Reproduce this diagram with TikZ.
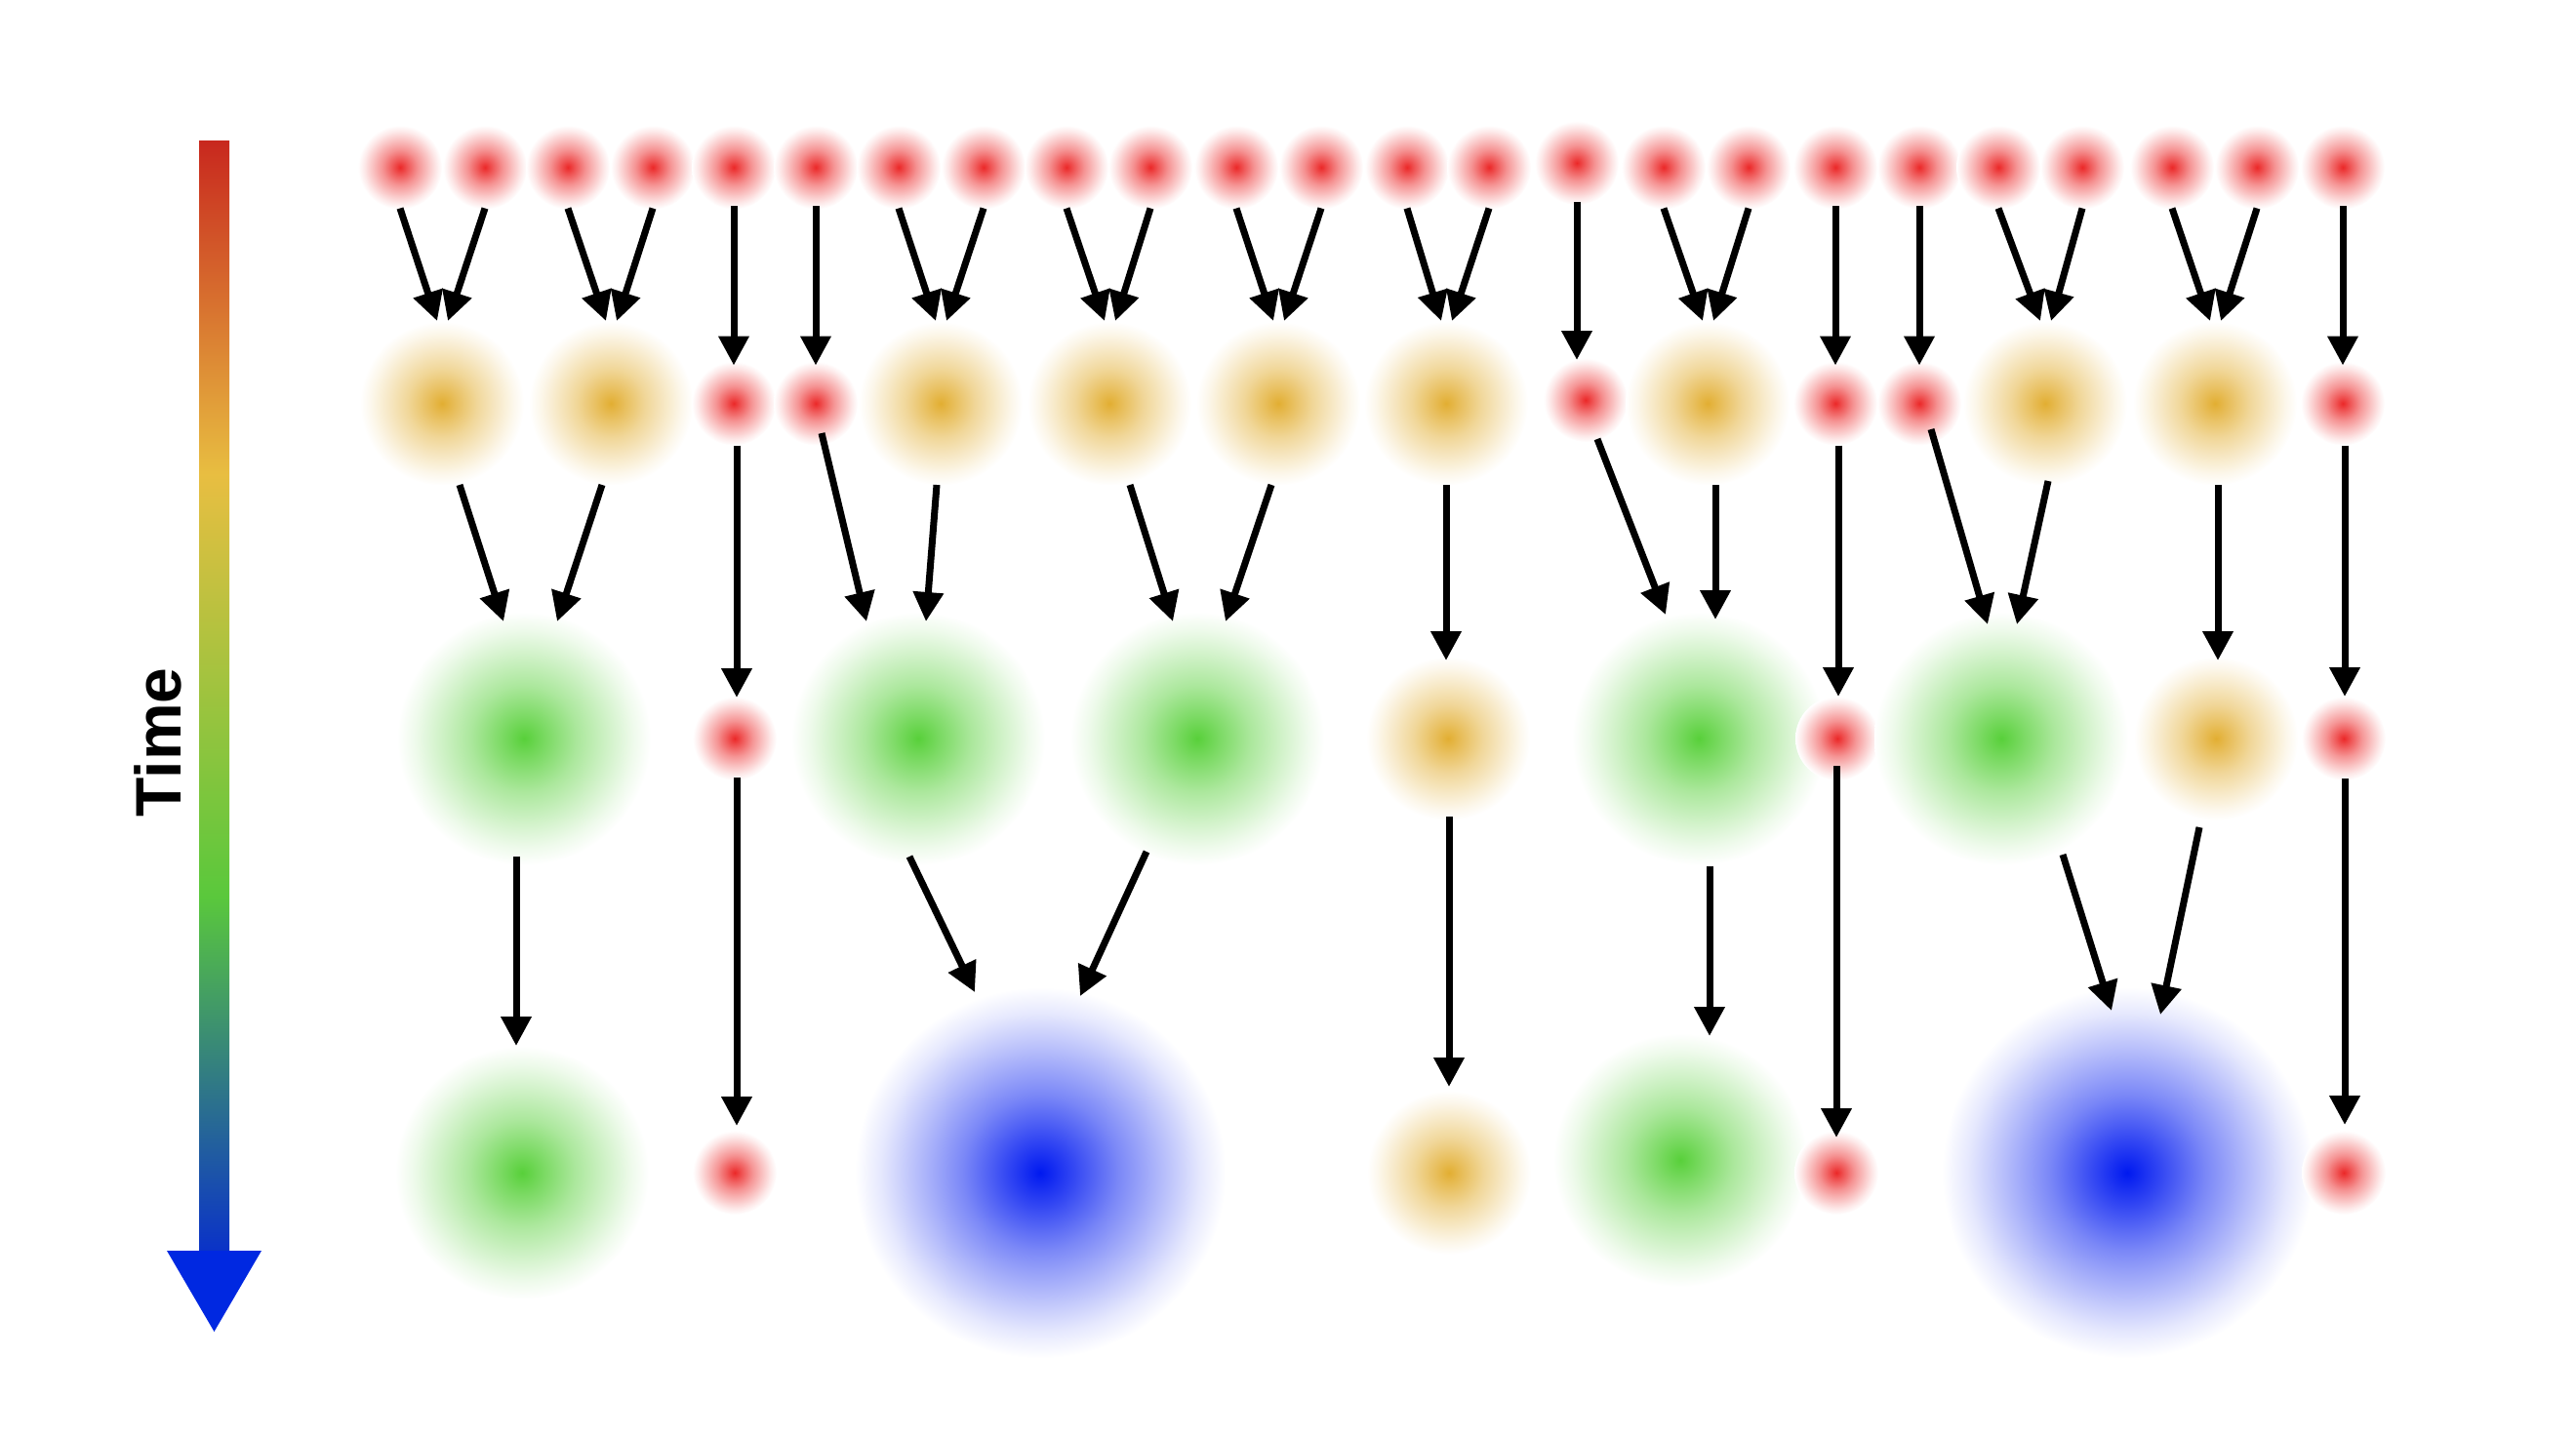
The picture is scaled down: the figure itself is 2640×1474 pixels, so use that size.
\documentclass[tikz,border=0pt]{standalone}
\usepackage{fontspec}
\setmainfont{Liberation Sans}
\usetikzlibrary{arrows.meta,calc}
\definecolor{cred}{RGB}{235,40,40}
\definecolor{corange}{RGB}{226,174,50}
\definecolor{cgreen}{RGB}{88,208,58}
\definecolor{cblue}{RGB}{0,25,240}
\definecolor{tred}{RGB}{200,40,30}
\definecolor{tyellow}{RGB}{232,190,65}
\definecolor{tgreen}{RGB}{90,200,60}
\definecolor{tblue}{RGB}{10,50,200}
\definecolor{thead}{RGB}{0,40,225}
\pgfdeclareradialshading{shred}{\pgfpointorigin}{color(0bp)=(cred); color(4.5bp)=(cred!78!white); color(10.5bp)=(cred!50!white); color(16.5bp)=(cred!28!white); color(21.5bp)=(cred!10!white); color(25bp)=(white); color(50bp)=(white)}
\pgfdeclareradialshading{shorange}{\pgfpointorigin}{color(0bp)=(corange); color(4.5bp)=(corange!78!white); color(10.5bp)=(corange!50!white); color(16.5bp)=(corange!28!white); color(21.5bp)=(corange!10!white); color(25bp)=(white); color(50bp)=(white)}
\pgfdeclareradialshading{shgreen}{\pgfpointorigin}{color(0bp)=(cgreen); color(4.5bp)=(cgreen!78!white); color(10.5bp)=(cgreen!50!white); color(16.5bp)=(cgreen!28!white); color(21.5bp)=(cgreen!10!white); color(25bp)=(white); color(50bp)=(white)}
\pgfdeclareradialshading{shblue}{\pgfpointorigin}{color(0bp)=(cblue); color(4.5bp)=(cblue!80!white); color(10.5bp)=(cblue!52!white); color(16.5bp)=(cblue!29!white); color(21.5bp)=(cblue!10!white); color(25bp)=(white); color(50bp)=(white)}
\pgfdeclareverticalshading{timebar}{100bp}{color(0bp)=(tblue); color(25bp)=(tblue); color(41bp)=(tgreen); color(60bp)=(tyellow); color(75bp)=(tred); color(100bp)=(tred)}
\tikzset{
  blob/.style={circle, inner sep=0pt, outer sep=0pt, shade},
  rblob/.style={blob, shading=shred, minimum size=86pt},
  oblob/.style={blob, shading=shorange, minimum size=168pt},
  gblob/.style={blob, shading=shgreen, minimum size=260pt},
  bblob/.style={blob, shading=shblue, minimum size=380pt},
  conn/.style={line width=7pt, -{Triangle[length=30pt,width=30pt]}}
}
\begin{document}
\begin{tikzpicture}[x=1pt,y=-1pt]
\useasboundingbox (0,0) rectangle (2640,1474);
% time axis
\shade[shading=timebar] (204,145) rectangle (235,1283);
\fill[thead] (171,1282) -- (268,1282) -- (219.5,1365) -- cycle;
\node[rotate=90, anchor=base, font=\bfseries\fontsize{66}{70}\selectfont] (time) at (185,761) {Time};
% row 1
\foreach \n/\x/\y in {1/410/171.5,2/497/171.5,3/582/171.5,4/669/171.5,5/752/171.5,6/836/171.5,7/921/171.5,8/1008/171.5,9/1093/171.5,10/1179/171.5,11/1267/171.5,12/1354/171.5,13/1442/171.5,14/1526/171.5,15/1616/167,16/1705/171.5,17/1792/171.5,18/1881/171.5,19/1967/171.5,20/2048/171.5,21/2134/171.5,22/2226/171.5,23/2313/171.5,24/2401/171.5}
  \node[rblob] (t\n) at (\x,\y) {};
% row 2
\node[oblob] (o1) at (453,413.5) {};
\node[oblob] (o2) at (626,413.5) {};
\node[rblob] (r5b) at (752,413.5) {};
\node[rblob] (r6b) at (836,413.5) {};
\node[oblob] (o3) at (964,413.5) {};
\node[oblob] (o4) at (1137,413.5) {};
\node[oblob] (o5) at (1310,413.5) {};
\node[oblob] (o6) at (1482,413.5) {};
\node[rblob] (r15b) at (1625,410) {};
\node[oblob] (o7) at (1750,413.5) {};
\node[rblob] (r18b) at (1881,413.5) {};
\node[rblob] (r19b) at (1967,413.5) {};
\node[oblob] (o8) at (2096,413.5) {};
\node[oblob] (o9) at (2270,413.5) {};
\node[rblob] (r24b) at (2401,413.5) {};
% row 3
\node[gblob] (g1) at (537,757) {};
\node[rblob] (r5c) at (753,757) {};
\node[gblob] (g2) at (941,757) {};
\node[gblob] (g3) at (1227,757) {};
\node[oblob] (o6c) at (1484,757) {};
\node[gblob] (g4) at (1741,757) {};
\node[rblob] (r18c) at (1883,757) {};
\node[gblob] (g5) at (2051,757) {};
\node[oblob] (o9c) at (2271,757) {};
\node[rblob] (r24c) at (2402,757) {};
% row 4
\node[gblob] (g1d) at (535,1202) {};
\node[rblob] (r5d) at (753,1202) {};
\node[bblob] (b1) at (1066,1202) {};
\node[oblob] (o6d) at (1485,1202) {};
\node[gblob] (g4d) at (1722,1189) {};
\node[rblob] (r18d) at (1882,1202) {};
\node[bblob] (b2) at (2180,1202) {};
\node[rblob] (r24d) at (2402,1202) {};
% row 1 -> row 2
\foreach \a/\b in {1/o1,3/o2,7/o3,9/o4,11/o5,13/o6,16/o7,20/o8,22/o9}
  \draw[conn] ($(t\a)+(0,42)$) -- ($(\b)+(-5,-84.5)$);
\foreach \a/\b in {2/o1,4/o2,8/o3,10/o4,12/o5,14/o6,17/o7,21/o8,23/o9}
  \draw[conn] ($(t\a)+(0,42)$) -- ($(\b)+(6,-84.5)$);
\foreach \a/\b in {5/r5b,6/r6b,18/r18b,19/r19b,24/r24b}
  \draw[conn] ($(t\a)+(0,40)$) -- ($(\b)+(0,-39)$);
\draw[conn] ($(t15)+(0,40)$) -- ($(r15b)+(-9,-41)$);
% row 2 -> row 3
\draw[conn] ($(o1)+(18,83.5)$) -- ($(g1)+(-21,-120)$);
\draw[conn] ($(o2)+(-9,83.5)$) -- ($(g1)+(34,-120)$);
\draw[conn] ($(r5b)+(3,43)$) -- ($(r5c)+(2,-42)$);
\draw[conn] ($(r6b)+(6,30.5)$) -- ($(g2)+(-53,-120)$);
\draw[conn] ($(o3)+(-4,83.5)$) -- ($(g2)+(8,-120)$);
\draw[conn] ($(o4)+(21,83.5)$) -- ($(g3)+(-25,-120)$);
\draw[conn] ($(o5)+(-7,83.5)$) -- ($(g3)+(29,-120)$);
\draw[conn] ($(o6)+(0,83.5)$) -- ($(o6c)+(-2,-80)$);
\draw[conn] ($(r15b)+(12,40)$) -- ($(g4)+(-34,-127)$);
\draw[conn] ($(o7)+(8,83.5)$) -- ($(g4)+(17,-122)$);
\draw[conn] ($(r18b)+(3,43)$) -- ($(r18c)+(1,-43)$);
\draw[conn] ($(r19b)+(12,26.5)$) -- ($(g5)+(-14,-117)$);
\draw[conn] ($(o8)+(3,79.5)$) -- ($(g5)+(16,-117)$);
\draw[conn] ($(o9)+(3,83.5)$) -- ($(o9c)+(2,-80)$);
\draw[conn] ($(r24b)+(2,43)$) -- ($(r24c)+(1,-43)$);
% row 3 -> row 4
\draw[conn] ($(g1)+(-8,121)$) -- ($(g1d)+(-6,-130)$);
\draw[conn] ($(r5c)+(2,40)$) -- ($(r5d)+(2,-48)$);
\draw[conn] ($(g2)+(-9,121)$) -- ($(b1)+(-67,-185)$);
\draw[conn] ($(g3)+(-52,116)$) -- ($(b1)+(41,-181)$);
\draw[conn] ($(o6c)+(1,80)$) -- ($(o6d)+(0,-88)$);
\draw[conn] ($(g4)+(11,131)$) -- ($(g4d)+(30,-127)$);
\draw[conn] ($(r18c)+(-1,28)$) -- ($(r18d)+(0,-36)$);
\draw[conn] ($(g5)+(63,119)$) -- ($(b2)+(-16,-166)$);
\draw[conn] ($(o9c)+(-17,91)$) -- ($(b2)+(34,-162)$);
\draw[conn] ($(r24c)+(1,41)$) -- ($(r24d)+(1,-49)$);
\end{tikzpicture}
\end{document}
